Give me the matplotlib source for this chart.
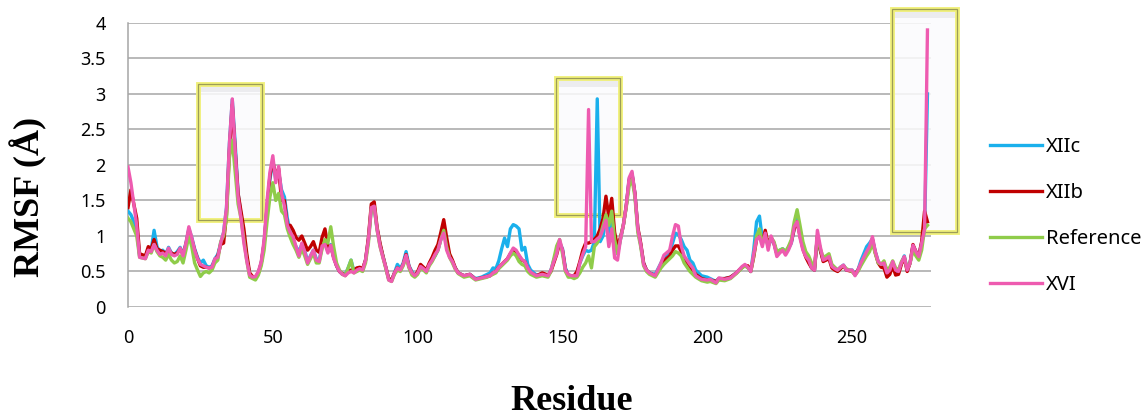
import numpy as np
import matplotlib
matplotlib.use('Agg')
import matplotlib.pyplot as plt
from matplotlib.patches import Rectangle

residue = [0, 1, 2, 3, 4, 6, 7, 8, 9, 10, 11, 12, 13, 14, 15, 16, 17, 18, 19, 20,
           21, 22, 23, 24, 25, 26, 27, 28, 29, 30, 31, 32, 33, 34, 35, 36, 37, 38, 39, 40,
           41, 42, 43, 44, 45, 46, 47, 48, 49, 50, 51, 52, 53, 54, 55, 56, 57, 58, 59, 60,
           61, 62, 63, 64, 65, 66, 67, 68, 69, 70, 71, 72, 73, 74, 75, 76, 77, 78, 79, 80,
           81, 82, 83, 84, 85, 86, 87, 88, 89, 90, 91, 92, 93, 94, 95, 96, 97, 98, 99, 100,
           101, 102, 103, 104, 105, 106, 107, 108, 109, 110, 111, 112, 113, 114, 116, 118, 120, 122, 124, 125,
           126, 127, 128, 129, 130, 131, 132, 133, 134, 135, 136, 137, 138, 139, 141, 143, 145, 146, 147, 148,
           149, 150, 151, 152, 153, 154, 155, 156, 157, 158, 159, 160, 161, 162, 163, 164, 165, 166, 167, 168,
           169, 170, 171, 172, 173, 174, 175, 176, 177, 178, 179, 180, 182, 184, 185, 187, 188, 189, 190, 191,
           192, 193, 194, 195, 196, 198, 200, 201, 203, 204, 206, 208, 210, 212, 213, 214, 215, 216, 217, 218,
           219, 220, 221, 222, 223, 224, 225, 226, 227, 228, 229, 230, 231, 232, 233, 234, 235, 236, 237, 238,
           239, 240, 241, 242, 243, 244, 245, 246, 247, 248, 250, 251, 252, 253, 254, 255, 256, 257, 258, 259,
           260, 261, 262, 263, 264, 265, 266, 267, 268, 269, 270, 271, 272, 273, 274, 275, 276]

xiic = [1.35, 1.30, 1.20, 1.10, 0.72, 0.70, 0.82, 0.80, 1.08, 0.85, 0.78, 0.80, 0.74, 0.84, 0.76, 0.74, 0.78, 0.84, 0.74, 0.90,
        1.10, 0.98, 0.82, 0.70, 0.62, 0.66, 0.58, 0.56, 0.58, 0.68, 0.74, 0.90, 1.05, 1.40, 2.30, 2.92, 2.30, 1.60, 1.30, 1.00,
        0.70, 0.45, 0.42, 0.42, 0.48, 0.62, 0.90, 1.40, 1.80, 2.05, 1.80, 1.90, 1.65, 1.55, 1.25, 1.05, 0.95, 0.85, 0.78, 0.88,
        0.80, 0.64, 0.72, 0.80, 0.68, 0.66, 0.84, 0.90, 0.80, 0.88, 0.70, 0.58, 0.50, 0.46, 0.46, 0.55, 0.66, 0.50, 0.52, 0.54,
        0.52, 0.66, 0.95, 1.40, 1.40, 1.10, 0.88, 0.72, 0.56, 0.40, 0.38, 0.48, 0.60, 0.54, 0.62, 0.78, 0.58, 0.50, 0.44, 0.48,
        0.57, 0.55, 0.50, 0.60, 0.66, 0.72, 0.80, 0.95, 1.10, 0.90, 0.72, 0.64, 0.55, 0.48, 0.44, 0.46, 0.40, 0.42, 0.46, 0.48,
        0.55, 0.54, 0.65, 0.82, 0.97, 0.85, 1.10, 1.16, 1.14, 1.10, 0.80, 0.84, 0.60, 0.52, 0.45, 0.46, 0.44, 0.52, 0.66, 0.78,
        0.90, 0.82, 0.55, 0.45, 0.44, 0.44, 0.48, 0.62, 0.72, 0.80, 0.78, 0.80, 0.92, 2.93, 0.92, 1.00, 1.25, 1.05, 1.25, 0.90,
        0.75, 0.95, 1.15, 1.42, 1.80, 1.88, 1.60, 1.10, 0.88, 0.62, 0.52, 0.48, 0.46, 0.62, 0.70, 0.78, 0.90, 1.04, 1.02, 0.95,
        0.85, 0.80, 0.66, 0.62, 0.52, 0.44, 0.42, 0.40, 0.36, 0.40, 0.40, 0.42, 0.48, 0.56, 0.58, 0.56, 0.50, 0.80, 1.20, 1.28,
        0.95, 1.05, 0.85, 0.95, 0.90, 0.75, 0.80, 0.82, 0.78, 0.82, 0.90, 1.10, 1.25, 1.05, 0.85, 0.72, 0.66, 0.55, 0.52, 1.00,
        0.80, 0.66, 0.68, 0.70, 0.58, 0.55, 0.52, 0.56, 0.59, 0.52, 0.52, 0.46, 0.52, 0.65, 0.75, 0.85, 0.90, 0.96, 0.78, 0.64,
        0.58, 0.62, 0.50, 0.52, 0.62, 0.50, 0.50, 0.62, 0.72, 0.52, 0.62, 0.86, 0.78, 0.72, 0.90, 1.10, 3.00]

xiib = [1.40, 1.65, 1.45, 1.25, 0.75, 0.72, 0.85, 0.82, 0.95, 0.82, 0.80, 0.78, 0.76, 0.80, 0.76, 0.74, 0.76, 0.82, 0.74, 0.88,
        1.08, 0.95, 0.80, 0.68, 0.58, 0.56, 0.56, 0.55, 0.56, 0.66, 0.72, 0.88, 0.90, 1.30, 2.20, 2.85, 2.20, 1.60, 1.35, 1.10,
        0.75, 0.48, 0.43, 0.42, 0.48, 0.62, 0.90, 1.40, 1.85, 2.05, 1.85, 1.95, 1.50, 1.50, 1.15, 1.15, 1.08, 0.98, 0.94, 1.00,
        0.90, 0.80, 0.85, 0.92, 0.80, 0.77, 0.98, 1.10, 0.85, 0.86, 0.70, 0.58, 0.50, 0.47, 0.45, 0.50, 0.52, 0.52, 0.55, 0.56,
        0.54, 0.66, 0.98, 1.45, 1.48, 1.12, 0.90, 0.72, 0.56, 0.40, 0.38, 0.48, 0.55, 0.52, 0.60, 0.74, 0.57, 0.48, 0.44, 0.50,
        0.60, 0.56, 0.52, 0.62, 0.70, 0.80, 0.88, 1.05, 1.23, 0.98, 0.75, 0.66, 0.55, 0.48, 0.44, 0.46, 0.39, 0.41, 0.43, 0.44,
        0.48, 0.50, 0.56, 0.60, 0.64, 0.68, 0.75, 0.80, 0.78, 0.72, 0.66, 0.64, 0.54, 0.48, 0.44, 0.48, 0.45, 0.50, 0.62, 0.74,
        0.90, 0.80, 0.53, 0.44, 0.44, 0.44, 0.50, 0.64, 0.80, 0.90, 0.90, 0.92, 0.95, 1.00, 1.10, 1.25, 1.56, 1.26, 1.53, 1.05,
        0.85, 0.98, 1.15, 1.42, 1.78, 1.87, 1.60, 1.12, 0.90, 0.62, 0.52, 0.48, 0.44, 0.58, 0.65, 0.72, 0.80, 0.86, 0.86, 0.78,
        0.68, 0.62, 0.56, 0.52, 0.46, 0.40, 0.38, 0.38, 0.36, 0.40, 0.40, 0.42, 0.48, 0.56, 0.58, 0.58, 0.50, 0.70, 0.95, 1.05,
        0.92, 1.08, 0.88, 0.98, 0.90, 0.75, 0.78, 0.80, 0.76, 0.84, 0.92, 1.10, 1.20, 1.00, 0.82, 0.70, 0.62, 0.55, 0.52, 1.00,
        0.80, 0.64, 0.66, 0.68, 0.55, 0.52, 0.50, 0.54, 0.58, 0.52, 0.50, 0.46, 0.52, 0.60, 0.68, 0.75, 0.82, 0.95, 0.76, 0.62,
        0.56, 0.55, 0.42, 0.46, 0.58, 0.45, 0.46, 0.60, 0.70, 0.50, 0.62, 0.88, 0.78, 0.72, 0.92, 1.35, 1.20]

reference = [1.25, 1.20, 1.10, 1.00, 0.70, 0.68, 0.78, 0.76, 0.88, 0.78, 0.72, 0.70, 0.66, 0.74, 0.66, 0.62, 0.64, 0.72, 0.62, 0.80,
             1.00, 0.85, 0.62, 0.52, 0.43, 0.48, 0.50, 0.48, 0.52, 0.62, 0.66, 0.92, 1.00, 1.25, 2.10, 2.35, 1.90, 1.45, 1.25, 0.95,
             0.65, 0.42, 0.40, 0.38, 0.45, 0.58, 0.80, 1.20, 1.55, 1.75, 1.50, 1.60, 1.35, 1.30, 1.10, 0.98, 0.88, 0.80, 0.70, 0.82,
             0.72, 0.60, 0.68, 0.76, 0.62, 0.62, 0.82, 0.95, 0.90, 1.13, 0.85, 0.62, 0.52, 0.46, 0.44, 0.55, 0.66, 0.48, 0.50, 0.52,
             0.50, 0.62, 0.90, 1.38, 1.40, 1.08, 0.85, 0.70, 0.54, 0.38, 0.36, 0.46, 0.52, 0.50, 0.58, 0.70, 0.55, 0.45, 0.42, 0.46,
             0.55, 0.52, 0.48, 0.58, 0.64, 0.72, 0.80, 0.95, 1.08, 0.85, 0.70, 0.62, 0.53, 0.47, 0.42, 0.44, 0.38, 0.40, 0.42, 0.44,
             0.46, 0.48, 0.54, 0.58, 0.62, 0.66, 0.72, 0.76, 0.72, 0.64, 0.60, 0.58, 0.50, 0.46, 0.42, 0.44, 0.42, 0.50, 0.68, 0.86,
             0.95, 0.75, 0.50, 0.42, 0.42, 0.40, 0.42, 0.48, 0.56, 0.62, 0.72, 0.55, 0.85, 0.90, 1.00, 1.15, 1.30, 1.15, 1.35, 0.95,
             0.75, 0.95, 1.15, 1.40, 1.70, 1.80, 1.55, 1.05, 0.85, 0.58, 0.50, 0.46, 0.42, 0.55, 0.60, 0.68, 0.72, 0.78, 0.76, 0.72,
             0.62, 0.56, 0.50, 0.46, 0.42, 0.37, 0.35, 0.36, 0.33, 0.38, 0.37, 0.40, 0.47, 0.55, 0.58, 0.55, 0.50, 0.72, 1.00, 1.10,
             0.90, 1.00, 0.85, 0.98, 0.92, 0.78, 0.80, 0.82, 0.78, 0.85, 0.95, 1.20, 1.37, 1.15, 0.92, 0.78, 0.72, 0.62, 0.56, 1.00,
             0.82, 0.70, 0.72, 0.75, 0.60, 0.56, 0.52, 0.56, 0.58, 0.54, 0.50, 0.45, 0.50, 0.58, 0.65, 0.72, 0.78, 0.90, 0.75, 0.62,
             0.60, 0.65, 0.52, 0.56, 0.65, 0.55, 0.52, 0.64, 0.70, 0.54, 0.62, 0.80, 0.72, 0.66, 0.80, 1.10, 1.15]

xvi = [1.97, 1.75, 1.45, 1.15, 0.70, 0.68, 0.80, 0.78, 0.88, 0.80, 0.74, 0.76, 0.72, 0.83, 0.74, 0.72, 0.74, 0.83, 0.72, 0.90,
       1.13, 0.98, 0.80, 0.68, 0.60, 0.58, 0.56, 0.55, 0.56, 0.68, 0.70, 0.90, 1.05, 1.40, 2.30, 2.93, 2.20, 1.55, 1.25, 0.90,
       0.65, 0.45, 0.42, 0.43, 0.50, 0.64, 0.95, 1.50, 1.90, 2.13, 1.75, 1.98, 1.60, 1.42, 1.15, 1.05, 0.99, 0.85, 0.72, 0.90,
       0.78, 0.62, 0.72, 0.80, 0.66, 0.64, 0.86, 0.88, 0.76, 0.87, 0.68, 0.58, 0.50, 0.46, 0.44, 0.48, 0.50, 0.48, 0.52, 0.54,
       0.52, 0.66, 0.95, 1.40, 1.42, 1.09, 0.86, 0.70, 0.56, 0.38, 0.36, 0.48, 0.55, 0.52, 0.60, 0.73, 0.57, 0.48, 0.44, 0.48,
       0.57, 0.54, 0.50, 0.60, 0.66, 0.74, 0.80, 0.95, 1.04, 0.80, 0.70, 0.64, 0.54, 0.48, 0.44, 0.46, 0.39, 0.41, 0.43, 0.44,
       0.48, 0.50, 0.56, 0.60, 0.64, 0.68, 0.76, 0.83, 0.80, 0.73, 0.67, 0.64, 0.55, 0.49, 0.44, 0.46, 0.44, 0.52, 0.64, 0.75,
       0.95, 0.80, 0.52, 0.46, 0.44, 0.44, 0.44, 0.62, 0.74, 0.85, 2.78, 0.92, 0.92, 0.96, 0.99, 1.10, 1.22, 0.85, 1.10, 0.69,
       0.66, 0.95, 1.15, 1.42, 1.82, 1.91, 1.60, 1.10, 0.88, 0.60, 0.52, 0.48, 0.44, 0.62, 0.73, 0.80, 1.00, 1.16, 1.14, 0.86,
       0.72, 0.66, 0.60, 0.55, 0.44, 0.39, 0.38, 0.39, 0.34, 0.41, 0.39, 0.41, 0.48, 0.57, 0.60, 0.56, 0.50, 0.75, 0.95, 0.99,
       0.85, 1.04, 0.80, 1.00, 0.89, 0.71, 0.76, 0.80, 0.73, 0.80, 0.90, 1.13, 1.20, 0.97, 0.80, 0.71, 0.66, 0.55, 0.52, 1.08,
       0.85, 0.66, 0.68, 0.71, 0.57, 0.54, 0.52, 0.56, 0.59, 0.52, 0.52, 0.44, 0.52, 0.62, 0.70, 0.78, 0.85, 0.99, 0.78, 0.64,
       0.60, 0.62, 0.48, 0.52, 0.64, 0.52, 0.50, 0.62, 0.71, 0.52, 0.62, 0.87, 0.78, 0.71, 0.90, 1.10, 3.90]

series = ['XIIc', 'XIIb', 'Reference', 'XVI']
values = [xiic, xiib, reference, xvi]
colors = ['#1ab0ec', '#c00000', '#8fcc4a', '#ee5bb0']

# highlighted peak regions (x0, x1, y0, y1) in data units
boxes = [(24.2, 46.3, 1.23, 3.14), (147.6, 170.0, 1.30, 3.22), (263.7, 286.2, 1.06, 4.19)]

fig = plt.figure(figsize=(11.45, 4.16), dpi=100)
ax = fig.add_axes([0.1118, 0.262, 0.7015, 0.683])

for name, v, c in zip(series, values, colors):
    ax.plot(residue, v, color=c, lw=2.4, label=name, zorder=3, solid_joinstyle='round')

for x0, x1, y0, y1 in boxes:
    ax.add_patch(Rectangle((x0, y0), x1 - x0, y1 - y0, facecolor='#fbfbfd', alpha=0.85,
                           edgecolor='none', zorder=2, clip_on=False))
    # faint band just under the top edge
    ax.add_patch(Rectangle((x0, y1 - 0.12), x1 - x0, 0.12, facecolor='#e6e6ea', alpha=0.7,
                           edgecolor='none', zorder=2.05, clip_on=False))
    ax.add_patch(Rectangle((x0, y0), x1 - x0, y1 - y0, facecolor='none',
                           edgecolor='#f0f07a', lw=3.5, zorder=2.1, clip_on=False))
    ax.add_patch(Rectangle((x0, y0), x1 - x0, y1 - y0, facecolor='none',
                           edgecolor='#9c9c58', lw=0.9, zorder=2.2, clip_on=False))

ax.set_xlim(0, 277.3)
ax.set_ylim(0, 4)
ax.set_xticks([0, 50, 100, 150, 200, 250])
ax.set_yticks(np.arange(0, 4.01, 0.5))
ax.set_yticklabels(['0', '0.5', '1', '1.5', '2', '2.5', '3', '3.5', '4'])
ax.tick_params(length=0, labelsize=13, pad=16)
for lab in ax.get_xticklabels() + ax.get_yticklabels():
    lab.set_fontfamily('Noto Sans')
ax.grid(axis='y', color='#a6a6a6', lw=1.1, zorder=0)
ax.set_axisbelow(True)
for s in ['top', 'right', 'bottom']:
    ax.spines[s].set_visible(False)
ax.spines['left'].set_color('#a6a6a6')
ax.spines['left'].set_linewidth(1.1)

fig.text(0.025, 0.526, 'RMSF (Å)', rotation=90, ha='center', va='center',
         fontsize=26, fontweight='bold', family='Liberation Serif')
fig.text(0.4995, 0.035, 'Residue', ha='center', va='center',
         fontsize=26, fontweight='bold', family='Liberation Serif')

leg = ax.legend(loc='center left', bbox_to_anchor=(1.05, 0.32), frameon=False,
                handlelength=2.6, handletextpad=0.2, labelspacing=1.3,
                prop={'family': 'Noto Sans', 'size': 14.5})

fig.savefig('out.png', dpi=100)
